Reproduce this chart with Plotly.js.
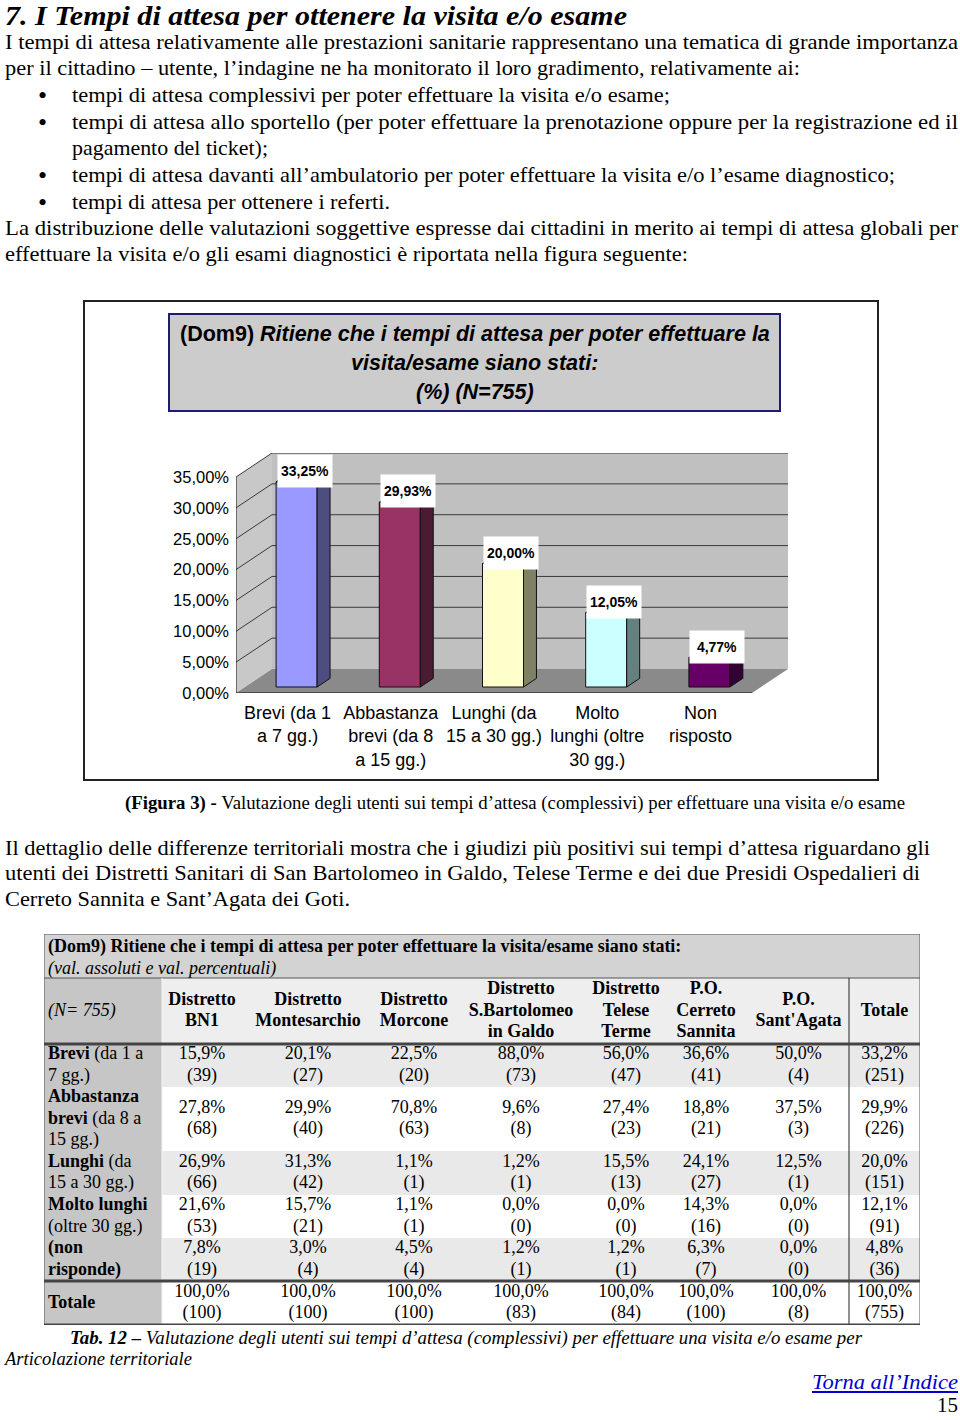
<!DOCTYPE html>
<html><head><meta charset="utf-8">
<script src="https://cdn.plot.ly/plotly-3.0.1.min.js"></script>
<style>
body{margin:0;background:#fff;width:960px;height:1420px;position:relative;overflow:hidden;font-family:'Liberation Serif','Times New Roman',serif;color:#000}
.ln{position:absolute;white-space:nowrap;transform-origin:0 0;line-height:1}
</style></head><body>
<div id="chart" style="position:absolute;left:83px;top:300px;width:796px;height:481px"></div>
<div style="position:absolute;left:83px;top:300px;width:796px;height:481px;border:2px solid #222;box-sizing:border-box;pointer-events:none"></div>
<div id="table" style="position:absolute;left:40px;top:930px;width:884px;height:400px"></div>
<script>
// ---------------- DATA ----------------
const categories = ['Brevi (da 1<br>a 7 gg.)','Abbastanza<br>brevi (da 8<br>a 15 gg.)','Lunghi (da<br>15 a 30 gg.)','Molto<br>lunghi (oltre<br>30 gg.)','Non<br>risposto'];
const values = [33.25, 29.93, 20.00, 12.05, 4.77];
const yTicks = [0, 5, 10, 15, 20, 25, 30, 35];

const tableColumns = [['Distretto','BN1'],['Distretto','Montesarchio'],['Distretto','Morcone'],['Distretto','S.Bartolomeo','in Galdo'],['Distretto','Telese','Terme'],['P.O.','Cerreto','Sannita'],['P.O.',"Sant'Agata"],['Totale']];
const rowLabels = [['<b>Brevi</b> (da 1 a','7 gg.)'],['<b>Abbastanza</b>','<b>brevi</b> (da 8 a','15 gg.)'],['<b>Lunghi</b> (da','15 a 30 gg.)'],['<b>Molto lunghi</b>','(oltre 30 gg.)'],['<b>(non</b>','<b>risponde)</b>'],['<b>Totale</b>']];
const pctBrevi      = [15.9, 20.1, 22.5, 88.0, 56.0, 36.6, 50.0, 33.2];
const nBrevi        = [39, 27, 20, 73, 47, 41, 4, 251];
const pctAbbastanza = [27.8, 29.9, 70.8, 9.6, 27.4, 18.8, 37.5, 29.9];
const nAbbastanza   = [68, 40, 63, 8, 23, 21, 3, 226];
const pctLunghi     = [26.9, 31.3, 1.1, 1.2, 15.5, 24.1, 12.5, 20.0];
const nLunghi       = [66, 42, 1, 1, 13, 27, 1, 151];
const pctMolto      = [21.6, 15.7, 1.1, 0.0, 0.0, 14.3, 0.0, 12.1];
const nMolto        = [53, 21, 1, 0, 0, 16, 0, 91];
const pctNon        = [7.8, 3.0, 4.5, 1.2, 1.2, 6.3, 0.0, 4.8];
const nNon          = [19, 4, 4, 1, 1, 7, 0, 36];
const pctTotale     = [100.0, 100.0, 100.0, 100.0, 100.0, 100.0, 100.0, 100.0];
const nTotale       = [100, 100, 100, 83, 84, 100, 8, 755];

// ---------------- PROSE ----------------
const lines = [
 {t:'7. I Tempi di attesa per ottenere la visita e/o esame', x0:5, x1:627, cy:13, f:28, b:1, i:1},
 {t:'I tempi di attesa relativamente alle prestazioni sanitarie rappresentano una tematica di grande importanza', x0:5, x1:958, cy:42, f:21},
 {t:'per il cittadino – utente, l’indagine ne ha monitorato il loro gradimento, relativamente ai:', x0:5, x1:800, cy:68, f:21},
 {t:'tempi di attesa complessivi per poter effettuare la visita e/o esame;', x0:72, x1:670, cy:95, f:21, bul:1},
 {t:'tempi di attesa allo sportello (per poter effettuare la prenotazione oppure per la registrazione ed il', x0:72, x1:958, cy:122, f:21, bul:1},
 {t:'pagamento del ticket);', x0:72, x1:268, cy:148, f:21},
 {t:'tempi di attesa davanti all’ambulatorio per poter effettuare la visita e/o l’esame diagnostico;', x0:72, x1:895, cy:175, f:21, bul:1},
 {t:'tempi di attesa per ottenere i referti.', x0:72, x1:390, cy:202, f:21, bul:1},
 {t:'La distribuzione delle valutazioni soggettive espresse dai cittadini in merito ai tempi di attesa globali per', x0:5, x1:958, cy:228, f:21},
 {t:'effettuare la visita e/o gli esami diagnostici è riportata nella figura seguente:', x0:5, x1:688, cy:254, f:21},
 {t:'<b>(Figura 3) -</b> Valutazione degli utenti sui tempi d’attesa (complessivi) per effettuare una visita e/o esame', x0:125, x1:905, cy:802, f:18},
 {t:'Il dettaglio delle differenze territoriali mostra che i giudizi più positivi sui tempi d’attesa riguardano gli', x0:5, x1:930, cy:848, f:21},
 {t:'utenti dei Distretti Sanitari di San Bartolomeo in Galdo, Telese Terme e dei due Presidi Ospedalieri di', x0:5, x1:920, cy:873, f:21},
 {t:'Cerreto Sannita e Sant’Agata dei Goti.', x0:5, x1:350, cy:899, f:21},
 {t:'<b>Tab. 12 –</b> Valutazione degli utenti sui tempi d’attesa (complessivi) per effettuare una visita e/o esame per', x0:70, x1:862, cy:1337, f:18, i:1},
 {t:'Articolazione territoriale', x0:5, x1:192, cy:1358, f:18, i:1},
 {t:'Torna all’Indice', x0:812, x1:958, cy:1382, f:21, i:1, link:1},
 {t:'15', x0:937, x1:958, cy:1405, f:21}
];
function placeLine(o){
  const d = document.createElement('div');
  d.className = 'ln';
  d.innerHTML = o.t;
  d.style.fontSize = o.f + 'px';
  if (o.b) d.style.fontWeight = 'bold';
  if (o.i) d.style.fontStyle = 'italic';
  if (o.link) { d.style.color = '#0000cc'; d.style.textDecoration = 'underline'; }
  d.style.left = o.x0 + 'px';
  d.style.top = Math.max(1.5, o.cy - 0.6125 * o.f + 3) + 'px';
  document.body.appendChild(d);
  const w = d.getBoundingClientRect().width;
  d.style.transform = 'scaleX(' + ((o.x1 - o.x0) / w) + ')';
  if (o.bul) {
    const b = document.createElement('div');
    b.className = 'ln'; b.textContent = '•'; b.style.fontSize = '26px';
    b.style.left = '38px'; b.style.top = (o.cy - 0.6125 * 26 + 4) + 'px';
    document.body.appendChild(b);
  }
}
lines.forEach(placeLine);

// ---------------- BAR CHART (3D look) ----------------
const PXX = 103.2, PXY = 6.171;           // px per category / per percent
const DX = 36 / PXX, DY = 24 / PXY;       // depth offsets
const F0 = 0.25, FD = 0.36, BW = 41 / PXX;
const XR = [-0.5, -0.5 + 552 / PXX], YR = [0, 240 / PXY];
const frontColors = ['#9999ff', '#993366', '#ffffcc', '#ccffff', '#660066'];
const sideColors  = ['#4d4d80', '#4d1a33', '#808066', '#668080', '#330033'];
const topColors   = ['#7a7acc', '#7a2952', '#cccca3', '#a3cccc', '#520052'];
const fmtPct = (v, d) => v.toFixed(d).replace('.', ',') + '%';

const shapes = [];
shapes.push({type:'path', xref:'x', yref:'y', layer:'below', line:{width:0},
  path:`M ${XR[0]},0 L ${XR[0]+DX},${DY} L ${XR[0]+DX},${35+DY} L ${XR[0]},35 Z`, fillcolor:'#c8c8c8'});
shapes.push({type:'path', xref:'x', yref:'y', layer:'below', line:{width:0},
  path:`M ${XR[0]+DX},${DY} L ${XR[1]},${DY} L ${XR[1]},${35+DY} L ${XR[0]+DX},${35+DY} Z`, fillcolor:'#c0c0c0'});
shapes.push({type:'path', xref:'x', yref:'y', layer:'below', line:{width:0},
  path:`M ${XR[0]},0 L 4.5,0 L ${4.5+DX},${DY} L ${XR[0]+DX},${DY} Z`, fillcolor:'#8a8a8a'});
yTicks.filter(v => v > 0).forEach(v => {
  shapes.push({type:'path', xref:'x', yref:'y', layer:'below', line:{color:'#3a3a3a', width:1},
    path:`M ${XR[0]},${v} L ${XR[0]+DX},${v+DY} L ${XR[1]},${v+DY}`});
});

const traces = [];
traces.push({type:'bar', x: values.map((v, i) => i + F0 * DX), y: values, base: F0 * DY, width: BW,
  marker:{color: frontColors, line:{color:'#111', width:1}}, hoverinfo:'skip', showlegend:false});
values.forEach((v, i) => {
  const x0 = i + F0 * DX - BW / 2, x1 = x0 + BW, y0 = F0 * DY, y1 = v + F0 * DY;
  traces.push({type:'scatter', mode:'lines', fill:'toself', fillcolor: sideColors[i], line:{color:'#111', width:1},
    x:[x1, x1 + FD*DX, x1 + FD*DX, x1, x1], y:[y0, y0 + FD*DY, y1 + FD*DY, y1, y0], showlegend:false, hoverinfo:'skip'});
  traces.push({type:'scatter', mode:'lines', fill:'toself', fillcolor: topColors[i], line:{color:'#111', width:1},
    x:[x0, x1, x1 + FD*DX, x0 + FD*DX, x0], y:[y1, y1, y1 + FD*DY, y1 + FD*DY, y1], showlegend:false, hoverinfo:'skip'});
});
// front axes + tick marks
const ax = {x:[], y:[]};
ax.x.push(XR[0], XR[0], null, XR[0], 4.5, null); ax.y.push(35, 0, null, 0, 0, null);
for (let b = -0.5; b <= 4.5; b += 1) { ax.x.push(b, b, null); ax.y.push(0, -0.8, null); }
yTicks.forEach(v => { ax.x.push(XR[0] - 5 / PXX, XR[0], null); ax.y.push(v, v, null); });
traces.push({type:'scatter', mode:'lines', x: ax.x, y: ax.y, line:{color:'#111', width:1}, cliponaxis:false, showlegend:false, hoverinfo:'skip'});

const CW = 796, CH = 481, ML = 153, MT = 153, PW = 552, PH = 240;
const pxp = (x, y) => ({x: (x - ML) / PW, y: (MT + PH - y) / PH});
const annotations = [];
const tb = pxp(391.5, 62.5);
annotations.push({xref:'paper', yref:'paper', x: tb.x, y: tb.y, xanchor:'center', yanchor:'middle', text:' ',
  showarrow:false, width:609, height:95, bgcolor:'#cccccc', bordercolor:'#1c1c70', borderwidth:2, borderpad:0});
const titleLines = ['<b>(Dom9) <i>Ritiene che i tempi di attesa per poter effettuare la</i></b>', '<b><i>visita/esame siano stati:</i></b>', '<b><i>(%) (N=755)</i></b>'];
titleLines.forEach((t, k) => {
  const p = pxp(391.5, 34 + 29 * k);
  annotations.push({xref:'paper', yref:'paper', x: p.x, y: p.y, xanchor:'center', yanchor:'middle', text: t, showarrow:false,
    font:{family:'Liberation Sans, Arial, sans-serif', size:21.5, color:'#000'}});
});
values.forEach((v, i) => {
  annotations.push({x: i + F0 * DX, y: v + F0 * DY, xshift: 8, yshift: 11, text: '<b>' + fmtPct(v, 2) + '</b>', showarrow:false,
    bgcolor:'#ffffff', width:52, height:30, borderpad:1, font:{family:'Liberation Sans, Arial, sans-serif', size:14, color:'#000'}});
});

Plotly.newPlot('chart', traces, {
  width: CW, height: CH, margin:{l:ML, r: CW - ML - PW, t:MT, b: CH - MT - PH},
  paper_bgcolor:'#ffffff', plot_bgcolor:'rgba(0,0,0,0)', showlegend:false, bargap:0,
  font:{family:'Liberation Sans, Arial, sans-serif', color:'#000'},
  xaxis:{range: XR, tickvals:[0,1,2,3,4], ticktext: categories, ticks:'', showgrid:false, zeroline:false, showline:false,
    tickfont:{size:18, color:'#000'}, ticklabelstandoff: 7, fixedrange:true},
  yaxis:{range: YR, tickvals: yTicks, ticktext: yTicks.map(v => fmtPct(v, 2)), ticks:'', showgrid:false, zeroline:false, showline:false,
    tickfont:{size:16.5, color:'#000'}, ticklabelstandoff: 6, fixedrange:true},
  shapes, annotations
}, {staticPlot:true, displayModeBar:false});

// ---------------- TABLE ----------------
const colEdges = [0, 118, 198, 330, 410, 544, 620, 704, 805, 876];
const rowEdges = [0, 44, 110, 153, 217, 261, 304, 347, 391];
const LS = 21.5;
const tShapes = [];
const rect = (x0, x1, y0, y1, c) => tShapes.push({type:'rect', xref:'x', yref:'y', x0, x1, y0, y1, fillcolor:c, line:{width:0}, layer:'below'});
const hline = (y, x0, x1, w, c) => tShapes.push({type:'line', xref:'x', yref:'y', x0, x1, y0:y, y1:y, line:{color:c, width:w}});
const vline = (x, y0, y1, w, c) => tShapes.push({type:'line', xref:'x', yref:'y', x0:x, x1:x, y0, y1, line:{color:c, width:w}});
rect(0, 876, 0, 44, '#d3d3d3');
rect(118, 876, 44, 110, '#eeeeee');
rect(0, 118, 44, 391, '#c6c6c6');
const rowsPct = [pctBrevi, pctAbbastanza, pctLunghi, pctMolto, pctNon, pctTotale];
const rowsN = [nBrevi, nAbbastanza, nLunghi, nMolto, nNon, nTotale];
rowsPct.forEach((r, k) => { if (k % 2 === 0 && k < 5) rect(118, 876, rowEdges[k+2], rowEdges[k+3], '#e9e9e9'); });
hline(0, 0, 876, 1, '#555'); hline(44, 0, 876, 1, '#555');
vline(0, 0, 391, 1, '#555'); vline(876, 0, 391, 1, '#555');
vline(118, 44, 391, 1, '#f5f5f5');
vline(805, 44, 391, 1, '#222');
hline(110, 0, 876, 3, '#444'); hline(347, 0, 876, 3, '#444'); hline(391, 0, 876, 3, '#444');

const cT = {x:[], y:[], text:[]}, lT = {x:[], y:[], text:[]};
const push = (o, x, y, t) => { o.x.push(x); o.y.push(y); o.text.push(t); };
const colC = k => (colEdges[k+1] + colEdges[k+2]) / 2;
push(lT, 4, 13, '<b>(Dom9) Ritiene che i tempi di attesa per poter effettuare la visita/esame siano stati:</b>');
push(lT, 4, 35, '<i>(val. assoluti e val. percentuali)</i>');
push(lT, 4, 77, '<i>(N= 755)</i>');
tableColumns.forEach((c, k) => {
  const cy = (rowEdges[1] + rowEdges[2]) / 2;
  c.forEach((t, j) => push(cT, colC(k), cy + (j - (c.length - 1) / 2) * LS, '<b>' + t + '</b>'));
});
rowLabels.forEach((lab, r) => {
  const cy = (rowEdges[r+2] + rowEdges[r+3]) / 2;
  lab.forEach((t, j) => push(lT, 4, cy + (j - (lab.length - 1) / 2) * LS, t));
  rowsPct[r].forEach((p, k) => {
    push(cT, colC(k), cy - LS / 2, fmtPct(p, 1));
    push(cT, colC(k), cy + LS / 2, '(' + rowsN[r][k] + ')');
  });
});
const tfont = {family:'Liberation Serif, Times New Roman, serif', size:18, color:'#000'};
Plotly.newPlot('table', [
  {type:'scatter', mode:'text', x:cT.x, y:cT.y, text:cT.text, textposition:'middle center', textfont:tfont, cliponaxis:false, hoverinfo:'skip'},
  {type:'scatter', mode:'text', x:lT.x, y:lT.y, text:lT.text, textposition:'middle right', textfont:tfont, cliponaxis:false, hoverinfo:'skip'}
], {
  width:884, height:400, margin:{l:4, r:4, t:4, b:5}, showlegend:false,
  paper_bgcolor:'rgba(0,0,0,0)', plot_bgcolor:'#ffffff',
  xaxis:{range:[0, 876], visible:false, fixedrange:true},
  yaxis:{range:[391, 0], visible:false, fixedrange:true},
  shapes: tShapes
}, {staticPlot:true, displayModeBar:false});
</script>
</body></html>
